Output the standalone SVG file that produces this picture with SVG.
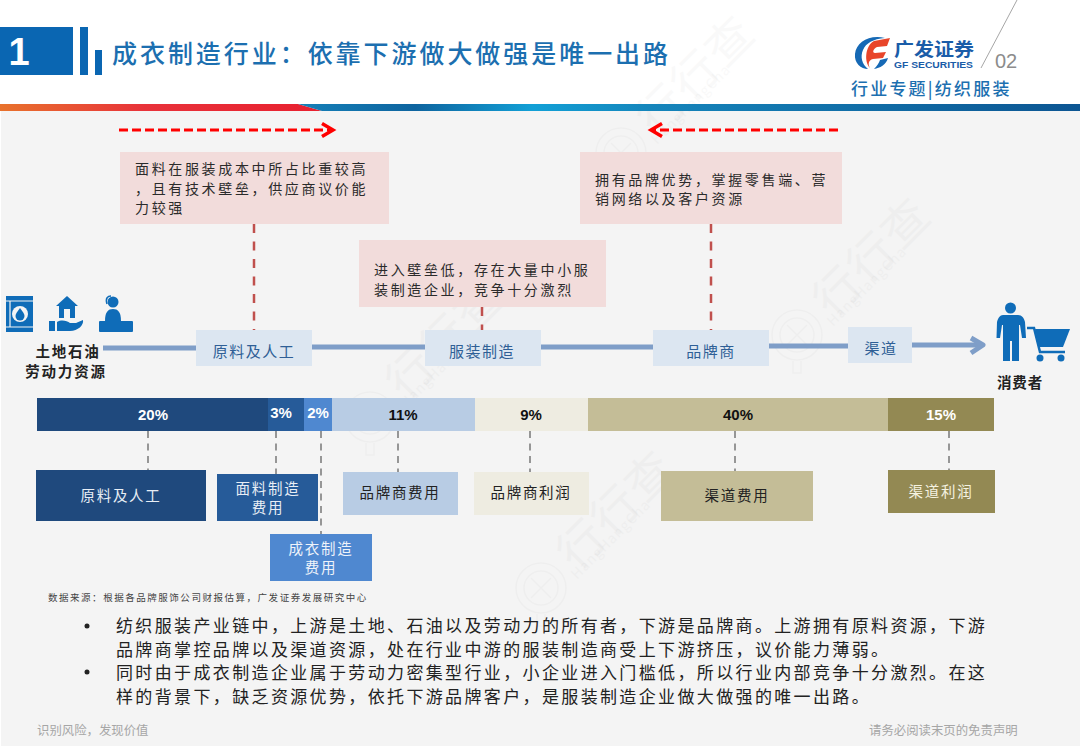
<svg xmlns="http://www.w3.org/2000/svg" width="1080" height="748" viewBox="0 0 1080 748">
<style>
text{font-family:"Noto Sans CJK SC","Liberation Sans",sans-serif}
.mid{text-anchor:middle}
.pink{fill:#f2dcdb}
.ptext{font-size:14px;letter-spacing:2.65px;fill:#2b2b2b}
.stage{fill:#dce6f1}
.stext{font-size:15px;letter-spacing:1.5px;fill:#2f5f96;text-anchor:middle}
.flow{fill:none;stroke:#7f9ec8;stroke-width:5}
.red{fill:none;stroke:#c0504d;stroke-width:2.5;stroke-dasharray:9 8.5}
.gray{fill:none;stroke:#7f7f7f;stroke-width:1.6;stroke-dasharray:7 5.5}
.hot{fill:none;stroke:#f00;stroke-width:3;stroke-dasharray:9 4}
.pct{font-family:"Liberation Sans",sans-serif;font-size:15px;font-weight:700;text-anchor:middle}
.box{font-size:14.5px;letter-spacing:1.7px;text-anchor:middle}
.body{font-size:17px;letter-spacing:2.36px;fill:#222}
.foot{font-size:12.4px;fill:#a6a6a6}
.ico{fill:#0f6cb8}
.wm{fill:#000;opacity:.018}
.wmr{fill:none;stroke:#000;stroke-opacity:.025;stroke-width:1.6}
</style>
<defs>
<linearGradient id="gr" x1="0" x2="1" y1="0" y2="0"><stop offset="0" stop-color="#e8722c"/><stop offset=".45" stop-color="#e8323a"/><stop offset="1" stop-color="#e8202f"/></linearGradient>
<linearGradient id="gb" x1="0" x2="1" y1="0" y2="0"><stop offset="0" stop-color="#1580b8"/><stop offset=".15" stop-color="#0e649f"/><stop offset=".3" stop-color="#12a0d6"/><stop offset=".45" stop-color="#1585bb"/><stop offset="1" stop-color="#0c5592"/></linearGradient>
<g id="mark">
<circle class="wmr" r="25"/><circle class="wmr" r="17"/><path class="wmr" d="M-10-10 10 10M10-10-10 10"/><path class="wmr" d="M-4 26V38H4V26"/>
<text class="wm" font-size="46" text-anchor="middle" transform="translate(75,-78) rotate(-45)" letter-spacing="2" dy="16">行行查</text>
<text class="wm" font-size="14" transform="translate(36,-8) rotate(-45)" letter-spacing="1">HangHangCha</text>
</g>
</defs>
<rect width="1080" height="748" fill="#fff"/>
<rect x="1" y="111" width="1079" height="635" fill="#f4f4f4"/>
<use href="#mark" x="621" y="153"/><use href="#mark" x="797" y="335"/><use href="#mark" x="370" y="417"/><use href="#mark" x="541" y="588"/>

<g id="header">
<rect x="0" y="27" width="73" height="48" fill="#0a66b2"/>
<text x="19" y="65" class="mid" fill="#fff" font-size="38" font-weight="700" style="font-family:'Liberation Sans',sans-serif">1</text>
<rect x="80" y="27" width="8" height="48" fill="#0a66b2"/><rect x="95" y="50" width="7" height="25" fill="#0a66b2"/>
<text x="112" y="63" font-size="25" font-weight="500" letter-spacing="2.95" fill="#1c6fb0">成衣制造行业：依靠下游做大做强是唯一出路</text>
<path d="M0 104H298L322 111H0Z" fill="url(#gr)"/>
<path d="M298 104H1080V111H322Z" fill="url(#gb)"/>
<path d="M1017 0 981 68" stroke="#a6a6a6" stroke-width="1" fill="none"/>
<text x="995" y="68" font-size="20" fill="#8c8c8c" style="font-family:'Liberation Sans',sans-serif">02</text>
<text x="851" y="95" font-size="17" font-weight="500" letter-spacing="2.2" fill="#1c6fb0">行业专题|纺织服装</text>
</g>
<g id="logo">
<path d="M885 38C870 34 856 42 855 54C854 63 861 69 868 69C862 64 860 57 863 50C866 43 873 39 885 38Z" fill="#1669b5"/>
<path d="M880 60 888 58C886 65 880 68 874 69C877 66 879 63 880 60Z" fill="#1669b5"/>
<path d="M874 41 890 38 887 46 877 47C873 49 872 53 875 53L886 52 883 58 873 59C868 60 868 65 870 68C864 62 865 46 874 41Z" fill="#e8452a"/>
<text x="894" y="56" font-size="18" font-weight="700" fill="#1a5ca8" textLength="80" lengthAdjust="spacingAndGlyphs">广发证券</text>
<text x="894" y="68" font-size="8.500" font-weight="700" fill="#1a5ca8" textLength="79" lengthAdjust="spacingAndGlyphs" style="font-family:'Liberation Sans',sans-serif">GF SECURITIES</text>
</g>

<g id="connectors">
<path class="hot" d="M119 130H332"/><path d="M322 123.500 333 130 322 136.500" fill="none" stroke="#f00" stroke-width="3.500"/>
<path class="hot" d="M838 130H653"/><path d="M662 123.500 651 130 662 136.500" fill="none" stroke="#f00" stroke-width="3.500"/>
<path class="red" d="M254 224V330"/><path class="red" d="M482 307V330"/><path class="red" d="M711 224V330"/>
<path class="flow" d="M103 348H196"/><path class="flow" d="M312 347H425"/><path class="flow" d="M541 347H653"/><path class="flow" d="M769 346H848"/><path class="flow" d="M912 345H981"/>
<path class="flow" d="M971 338 983 345 971 353" stroke-linejoin="round"/>
<path class="gray" d="M148 431V471"/><path class="gray" d="M276 431V474"/><path class="gray" d="M321 431V534"/><path class="gray" d="M398 431V472"/><path class="gray" d="M530 431V472"/><path class="gray" d="M735 431V471"/><path class="gray" d="M949 431V470"/>
</g>

<g id="note-fabric"><rect class="pink" x="120" y="152" width="269" height="72"/>
<text class="ptext" x="135" y="174">面料在服装成本中所占比重较高</text>
<text class="ptext" x="135" y="194">，且有技术壁垒，供应商议价能</text>
<text class="ptext" x="135" y="213">力较强</text></g>
<g id="note-brand"><rect class="pink" x="580" y="152" width="262" height="72"/>
<text class="ptext" x="595" y="185">拥有品牌优势，掌握零售端、营</text>
<text class="ptext" x="595" y="204">销网络以及客户资源</text></g>
<g id="note-maker"><rect class="pink" x="359" y="240" width="247" height="67"/>
<text class="ptext" x="374" y="275">进入壁垒低，存在大量中小服</text>
<text class="ptext" x="374" y="295">装制造企业，竞争十分激烈</text></g>

<g id="stage-material"><rect class="stage" x="196" y="330" width="116" height="36"/><text class="stext" x="254" y="357">原料及人工</text></g>
<g id="stage-maker"><rect class="stage" x="425" y="330" width="116" height="36"/><text class="stext" x="482" y="357">服装制造</text></g>
<g id="stage-brand"><rect class="stage" x="653" y="330" width="116" height="36"/><text class="stext" x="711" y="357">品牌商</text></g>
<g id="stage-channel"><rect class="stage" x="848" y="327" width="64" height="36"/><text class="stext" x="881" y="354">渠道</text></g>

<g id="source">
<rect class="ico" x="6" y="296" width="27" height="36"/>
<path d="M6 301H33M6 327H33M10 301V327" stroke="#f4f4f4" stroke-width="1.200"/>
<circle cx="20" cy="314" r="8" fill="#f4f4f4"/><path class="ico" d="M20 308C23 312 24.500 314 24.500 316A4.500 4.500 0 0 1 15.500 316C15.500 314 17 312 20 308Z"/>
<path class="ico" d="M67 296 78 306H75V318H59V306H56Z"/><rect x="64" y="309" width="6" height="9" fill="#f4f4f4"/>
<path class="ico" d="M49 321H55V331H49ZM57 322C62 319 67 321 70 323H76L83 320C84 325 78 331 70 331H57Z"/>
<circle class="ico" cx="113" cy="302" r="5.500"/><path d="M107 304C105 298 108 296 111 296" fill="none" stroke="#0f6cb8" stroke-width="1.500"/>
<path class="ico" d="M105 321C105 312 108 309 113 309C118 309 121 312 121 321Z"/>
<rect class="ico" x="99" y="321" width="34" height="11" rx="1"/>
<text x="68" y="357" class="mid" font-size="14.500" font-weight="700" letter-spacing="1.800" fill="#222">土地石油</text>
<text x="66" y="377" class="mid" font-size="14.500" font-weight="700" letter-spacing="1.800" fill="#222">劳动力资源</text>
</g>
<g id="consumer">
<circle class="ico" cx="1010.500" cy="308" r="5.500"/>
<path class="ico" d="M1003 315H1018C1022 315 1024 318 1025 322L1026 338H1022L1020 325H1019V361H1012V341H1010V361H1003V325H1002L1000 338H996.500L997 322C998 318 1000 315 1003 315Z"/>
<path d="M1027 328H1034L1040 352H1065" fill="none" stroke="#0f6cb8" stroke-width="2.500"/>
<path class="ico" d="M1035 329H1070L1063 347H1039Z"/>
<circle class="ico" cx="1040" cy="358" r="3.500"/><circle class="ico" cx="1061" cy="358" r="3.500"/>
<text x="1020" y="388" class="mid" font-size="14.500" font-weight="700" letter-spacing=".8" fill="#222">消费者</text>
</g>

<g id="cost-bar">
<rect x="37" y="398" width="231" height="33" fill="#1f497d"/>
<rect x="268" y="398" width="36" height="33" fill="#265b99"/>
<rect x="304" y="398" width="28" height="33" fill="#4f88d0"/>
<rect x="332" y="398" width="143" height="33" fill="#b8cce4"/>
<rect x="475" y="398" width="113" height="33" fill="#eeece1"/>
<rect x="588" y="398" width="300" height="33" fill="#c4bd97"/>
<rect x="888" y="398" width="106" height="33" fill="#938953"/>
<text class="pct" x="153" y="420" fill="#fff">20%</text>
<text class="pct" x="281" y="418" fill="#fff">3%</text>
<text class="pct" x="318" y="418" fill="#fff">2%</text>
<text class="pct" x="403" y="420" fill="#111">11%</text>
<text class="pct" x="531" y="420" fill="#111">9%</text>
<text class="pct" x="738" y="420" fill="#111">40%</text>
<text class="pct" x="941" y="420" fill="#fff">15%</text>
</g>

<g id="cost-material"><rect x="36" y="470" width="170" height="51" fill="#1f497d"/><text class="box" x="121" y="501" fill="#e8eef5">原料及人工</text></g>
<g id="cost-fabric"><rect x="217" y="474" width="101" height="47" fill="#265b99"/><text class="box" x="268" y="494" fill="#e8eef5">面料制造</text><text class="box" x="268" y="513" fill="#e8eef5">费用</text></g>
<g id="cost-garment"><rect x="270" y="534" width="102" height="47" fill="#4f88d0"/><text class="box" x="321" y="554" fill="#eef3fa">成衣制造</text><text class="box" x="321" y="573" fill="#eef3fa">费用</text></g>
<g id="cost-brand"><rect x="343" y="472" width="115" height="43" fill="#b8cce4"/><text class="box" x="400" y="498" fill="#222">品牌商费用</text></g>
<g id="profit-brand"><rect x="474" y="472" width="115" height="43" fill="#eeece1"/><text class="box" x="531" y="498" fill="#222">品牌商利润</text></g>
<g id="cost-channel"><rect x="661" y="471" width="152" height="50" fill="#c4bd97"/><text class="box" x="737" y="501" fill="#222">渠道费用</text></g>
<g id="profit-channel"><rect x="888" y="470" width="107" height="43" fill="#938953"/><text class="box" x="941" y="497" fill="#f5f2e0">渠道利润</text></g>

<g id="notes">
<text x="48" y="601" font-size="9.500" letter-spacing="1.530" fill="#444">数据来源：根据各品牌服饰公司财报估算，广发证券发展研究中心</text>
<circle cx="87" cy="626" r="2.500" fill="#222"/><circle cx="87" cy="672" r="2.500" fill="#222"/>
<text class="body" x="116" y="632">纺织服装产业链中，上游是土地、石油以及劳动力的所有者，下游是品牌商。上游拥有原料资源，下游</text>
<text class="body" x="116" y="656">品牌商掌控品牌以及渠道资源，处在行业中游的服装制造商受上下游挤压，议价能力薄弱。</text>
<text class="body" x="116" y="679">同时由于成衣制造企业属于劳动力密集型行业，小企业进入门槛低，所以行业内部竞争十分激烈。在这</text>
<text class="body" x="116" y="703">样的背景下，缺乏资源优势，依托下游品牌客户，是服装制造企业做大做强的唯一出路。</text>
<text class="foot" x="37" y="735">识别风险，发现价值</text>
<text class="foot" x="869" y="735">请务必阅读末页的免责声明</text>
</g>
</svg>
